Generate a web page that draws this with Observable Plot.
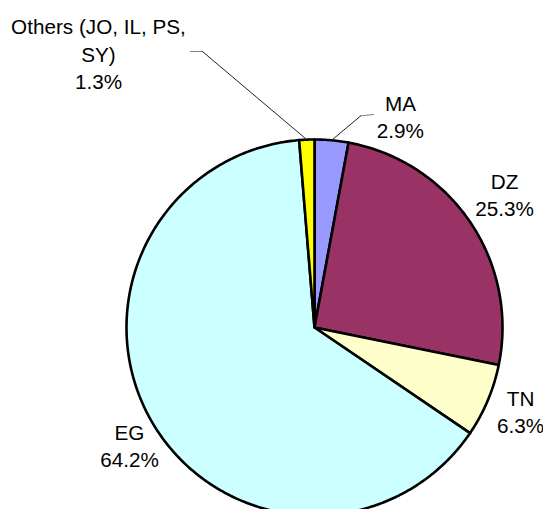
<!DOCTYPE html>
<html>
<head>
<meta charset="utf-8">
<script src="https://cdn.jsdelivr.net/npm/d3@7"></script>
<script src="https://cdn.jsdelivr.net/npm/@observablehq/plot@0.6"></script>
<style>
  html, body { margin: 0; padding: 0; background: #fff; overflow: hidden; }
</style>
</head>
<body>
<div id="chart"></div>
<script>
// ---- data ----
const categories = ["MA", "DZ", "TN", "EG", "Others"];
const shares = [2.9, 25.3, 6.3, 64.2, 1.3];
const labelNames = ["MA", "DZ", "TN", "EG", "Others (JO, IL, PS,\nSY)"];
const sliceColors = ["#9999FF", "#993366", "#FFFFCC", "#CCFFFF", "#FFFF00"];

// ---- layout (in pie-radius units, centre = 0,0) ----
const labelX = [0.457, 1.011, 1.096, -0.984, -1.149];
const labelY = [1.127, 0.712, -0.442, -0.623, 1.461];
// leader lines for moved labels: start point and elbow
const leaders = [
  {cat: "MA", start: [0.314, 1.133], elbow: [0.245, 1.125]},
  {cat: "Others", start: [-0.660, 1.468], elbow: [-0.596, 1.468]}
];

// ---- geometry from the data ----
const arcs = d3.pie().sort(null).value(d => d)(shares);
const slicePts = [];
arcs.forEach((a, i) => {
  const cat = categories[i];
  slicePts.push({cat, x: 0, y: 0});
  const n = Math.max(2, Math.ceil((a.endAngle - a.startAngle) / 0.01));
  for (let k = 0; k <= n; k++) {
    const t = a.startAngle + (a.endAngle - a.startAngle) * k / n;
    slicePts.push({cat, x: Math.sin(t), y: Math.cos(t)});
  }
  slicePts.push({cat, x: 0, y: 0});
});

const labels = categories.map((c, i) => ({
  x: labelX[i], y: labelY[i],
  text: `${labelNames[i]}\n${shares[i].toFixed(1)}%`
}));

const horiz = [], diag = [];
leaders.forEach(l => {
  const i = categories.indexOf(l.cat);
  const mid = (arcs[i].startAngle + arcs[i].endAngle) / 2;
  horiz.push({id: l.cat, x: l.start[0], y: l.start[1]}, {id: l.cat, x: l.elbow[0], y: l.elbow[1]});
  diag.push({id: l.cat, x: l.elbow[0], y: l.elbow[1]}, {id: l.cat, x: Math.sin(mid), y: Math.cos(mid)});
});

const font = "'Liberation Sans', Arial, sans-serif";

const chart = Plot.plot({
  width: 543,
  height: 509,
  margin: 0,
  style: {background: "#fff", fontFamily: font},
  x: {domain: [-1, 1], range: [126, 502], axis: null},
  y: {domain: [-1, 1], range: [515, 139], axis: null},
  color: {type: "ordinal", domain: categories, range: sliceColors},
  marks: [
    Plot.line(slicePts, {x: "x", y: "y", z: "cat", fill: "cat", stroke: "#000", strokeWidth: 2.6, strokeLinejoin: "round", curve: "linear"}),
    Plot.line(horiz, {x: "x", y: "y", z: "id", stroke: "#808080", strokeWidth: 1}),
    Plot.line(diag, {x: "x", y: "y", z: "id", stroke: "#222", strokeWidth: 1}),
    Plot.text(labels, {x: "x", y: "y", text: "text", fontSize: 20.7, lineHeight: 1.32, textAnchor: "middle", lineAnchor: "middle", fill: "#000", fontFamily: font})
  ]
});
document.getElementById("chart").appendChild(chart);
</script>
</body>
</html>
